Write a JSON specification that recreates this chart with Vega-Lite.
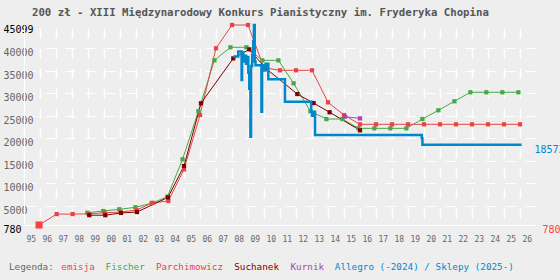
{
  "$schema": "https://vega.github.io/schema/vega-lite/v6.json",
  "width": 512,
  "height": 200,
  "autosize": {"type": "none"},
  "padding": {"left": 24, "top": 25, "right": 24, "bottom": 55},
  "background": "#eeeeee",
  "title": {
    "text": "200 zł - XIII Międzynarodowy Konkurs Pianistyczny im. Fryderyka Chopina",
    "anchor": "start", "frame": "group", "dx": 8, "offset": 1,
    "font": "DejaVu Sans Mono", "fontSize": 10.7, "fontWeight": "bold", "color": "#555555"
  },
  "config": {
    "view": {"stroke": null, "fill": "#eeeeee"},
    "font": "DejaVu Sans Mono",
    "axis": {
      "labelFont": "DejaVu Sans Mono", "domainColor": "white", "domainWidth": 1,
      "gridColor": "white", "ticks": false, "tickSize": 0,
      "labelOverlap": false, "labelFlush": false, "title": null
    }
  },
  "datasets": {
    "emisja": [{"seria": "emisja", "rok": 1995.94, "cena": 780}],
    "katalogi": [
      {"seria": "Fischer", "rok": 1998.96, "cena": 3500},
      {"seria": "Fischer", "rok": 1999.96, "cena": 3880},
      {"seria": "Fischer", "rok": 2000.96, "cena": 4260},
      {"seria": "Fischer", "rok": 2001.96, "cena": 4700},
      {"seria": "Fischer", "rok": 2002.97, "cena": 5590},
      {"seria": "Fischer", "rok": 2003.96, "cena": 7050},
      {"seria": "Fischer", "rok": 2004.91, "cena": 15340},
      {"seria": "Fischer", "rok": 2005.9, "cena": 26000},
      {"seria": "Fischer", "rok": 2006.9, "cena": 37270},
      {"seria": "Fischer", "rok": 2007.9, "cena": 40160},
      {"seria": "Fischer", "rok": 2008.9, "cena": 40160},
      {"seria": "Fischer", "rok": 2009.9, "cena": 37270},
      {"seria": "Fischer", "rok": 2010.9, "cena": 37270},
      {"seria": "Fischer", "rok": 2011.85, "cena": 32180},
      {"seria": "Fischer", "rok": 2012.9, "cena": 26000},
      {"seria": "Fischer", "rok": 2013.9, "cena": 24260},
      {"seria": "Fischer", "rok": 2014.9, "cena": 24260},
      {"seria": "Fischer", "rok": 2015.9, "cena": 22200},
      {"seria": "Fischer", "rok": 2016.9, "cena": 22200},
      {"seria": "Fischer", "rok": 2017.9, "cena": 22200},
      {"seria": "Fischer", "rok": 2018.9, "cena": 22200},
      {"seria": "Fischer", "rok": 2019.9, "cena": 24260},
      {"seria": "Fischer", "rok": 2020.9, "cena": 26200},
      {"seria": "Fischer", "rok": 2021.9, "cena": 28190},
      {"seria": "Fischer", "rok": 2022.9, "cena": 30190},
      {"seria": "Fischer", "rok": 2023.9, "cena": 30190},
      {"seria": "Fischer", "rok": 2024.9, "cena": 30190},
      {"seria": "Fischer", "rok": 2025.9, "cena": 30190},
      {"seria": "Parchimowicz", "rok": 1995.94, "cena": 780},
      {"seria": "Parchimowicz", "rok": 1997.04, "cena": 3200},
      {"seria": "Parchimowicz", "rok": 1998.04, "cena": 3200},
      {"seria": "Parchimowicz", "rok": 1999.04, "cena": 3250},
      {"seria": "Parchimowicz", "rok": 2000.04, "cena": 3500},
      {"seria": "Parchimowicz", "rok": 2001.04, "cena": 3650},
      {"seria": "Parchimowicz", "rok": 2002.04, "cena": 4100},
      {"seria": "Parchimowicz", "rok": 2003.03, "cena": 5700},
      {"seria": "Parchimowicz", "rok": 2004.02, "cena": 6100},
      {"seria": "Parchimowicz", "rok": 2005.0, "cena": 13100},
      {"seria": "Parchimowicz", "rok": 2006.0, "cena": 25150},
      {"seria": "Parchimowicz", "rok": 2007.0, "cena": 39940},
      {"seria": "Parchimowicz", "rok": 2008.0, "cena": 45099},
      {"seria": "Parchimowicz", "rok": 2009.0, "cena": 45099},
      {"seria": "Parchimowicz", "rok": 2010.0, "cena": 35640},
      {"seria": "Parchimowicz", "rok": 2011.0, "cena": 35060},
      {"seria": "Parchimowicz", "rok": 2012.0, "cena": 35060},
      {"seria": "Parchimowicz", "rok": 2013.0, "cena": 35060},
      {"seria": "Parchimowicz", "rok": 2014.0, "cena": 27970},
      {"seria": "Parchimowicz", "rok": 2015.0, "cena": 25150},
      {"seria": "Parchimowicz", "rok": 2016.0, "cena": 23090},
      {"seria": "Parchimowicz", "rok": 2017.0, "cena": 23090},
      {"seria": "Parchimowicz", "rok": 2018.0, "cena": 23090},
      {"seria": "Parchimowicz", "rok": 2019.0, "cena": 23090},
      {"seria": "Parchimowicz", "rok": 2020.0, "cena": 23090},
      {"seria": "Parchimowicz", "rok": 2021.0, "cena": 23090},
      {"seria": "Parchimowicz", "rok": 2022.0, "cena": 23090},
      {"seria": "Parchimowicz", "rok": 2023.0, "cena": 23090},
      {"seria": "Parchimowicz", "rok": 2024.0, "cena": 23090},
      {"seria": "Parchimowicz", "rok": 2025.0, "cena": 23090},
      {"seria": "Parchimowicz", "rok": 2026.0, "cena": 23090},
      {"seria": "Suchanek", "rok": 1999.08, "cena": 2950},
      {"seria": "Suchanek", "rok": 2000.08, "cena": 2950},
      {"seria": "Suchanek", "rok": 2001.06, "cena": 3450},
      {"seria": "Suchanek", "rok": 2002.06, "cena": 3650},
      {"seria": "Suchanek", "rok": 2004.0, "cena": 6900},
      {"seria": "Suchanek", "rok": 2005.0, "cena": 13850},
      {"seria": "Suchanek", "rok": 2006.06, "cena": 27750},
      {"seria": "Suchanek", "rok": 2008.08, "cena": 37700},
      {"seria": "Suchanek", "rok": 2009.08, "cena": 39700},
      {"seria": "Suchanek", "rok": 2010.06, "cena": 35640},
      {"seria": "Suchanek", "rok": 2012.08, "cena": 29800},
      {"seria": "Suchanek", "rok": 2013.1, "cena": 27800},
      {"seria": "Suchanek", "rok": 2014.1, "cena": 25760},
      {"seria": "Suchanek", "rok": 2016.0, "cena": 21760},
      {"seria": "Kurnik", "rok": 2015.06, "cena": 24800},
      {"seria": "Kurnik", "rok": 2016.0, "cena": 24400}
    ],
    "allegro": [
      {"seria": "Allegro (-2024) / Sklepy (2025-)", "rok": 2008.08, "cena": 38100},
      {"seria": "Allegro (-2024) / Sklepy (2025-)", "rok": 2008.39, "cena": 39200},
      {"seria": "Allegro (-2024) / Sklepy (2025-)", "rok": 2008.6, "cena": 32900},
      {"seria": "Allegro (-2024) / Sklepy (2025-)", "rok": 2008.63, "cena": 39000},
      {"seria": "Allegro (-2024) / Sklepy (2025-)", "rok": 2008.71, "cena": 37000},
      {"seria": "Allegro (-2024) / Sklepy (2025-)", "rok": 2008.8, "cena": 38300},
      {"seria": "Allegro (-2024) / Sklepy (2025-)", "rok": 2008.88, "cena": 36500},
      {"seria": "Allegro (-2024) / Sklepy (2025-)", "rok": 2008.95, "cena": 38000},
      {"seria": "Allegro (-2024) / Sklepy (2025-)", "rok": 2009.02, "cena": 34500},
      {"seria": "Allegro (-2024) / Sklepy (2025-)", "rok": 2009.08, "cena": 31000},
      {"seria": "Allegro (-2024) / Sklepy (2025-)", "rok": 2009.15, "cena": 20350},
      {"seria": "Allegro (-2024) / Sklepy (2025-)", "rok": 2009.19, "cena": 36000},
      {"seria": "Allegro (-2024) / Sklepy (2025-)", "rok": 2009.26, "cena": 38500},
      {"seria": "Allegro (-2024) / Sklepy (2025-)", "rok": 2009.33, "cena": 41500},
      {"seria": "Allegro (-2024) / Sklepy (2025-)", "rok": 2009.37, "cena": 45099},
      {"seria": "Allegro (-2024) / Sklepy (2025-)", "rok": 2009.42, "cena": 37000},
      {"seria": "Allegro (-2024) / Sklepy (2025-)", "rok": 2009.47, "cena": 36200},
      {"seria": "Allegro (-2024) / Sklepy (2025-)", "rok": 2009.84, "cena": 25900},
      {"seria": "Allegro (-2024) / Sklepy (2025-)", "rok": 2009.88, "cena": 36200},
      {"seria": "Allegro (-2024) / Sklepy (2025-)", "rok": 2010.0, "cena": 35000},
      {"seria": "Allegro (-2024) / Sklepy (2025-)", "rok": 2010.1, "cena": 36500},
      {"seria": "Allegro (-2024) / Sklepy (2025-)", "rok": 2010.27, "cena": 33060},
      {"seria": "Allegro (-2024) / Sklepy (2025-)", "rok": 2011.31, "cena": 28100},
      {"seria": "Allegro (-2024) / Sklepy (2025-)", "rok": 2012.95, "cena": 25900},
      {"seria": "Allegro (-2024) / Sklepy (2025-)", "rok": 2013.0, "cena": 25000},
      {"seria": "Allegro (-2024) / Sklepy (2025-)", "rok": 2013.08, "cena": 25900},
      {"seria": "Allegro (-2024) / Sklepy (2025-)", "rok": 2013.19, "cena": 20720},
      {"seria": "Allegro (-2024) / Sklepy (2025-)", "rok": 2019.86, "cena": 20000},
      {"seria": "Allegro (-2024) / Sklepy (2025-)", "rok": 2019.9, "cena": 18573},
      {"seria": "Allegro (-2024) / Sklepy (2025-)", "rok": 2026.1, "cena": 18573}
    ]
  },
  "encoding": {
    "x": {
      "field": "rok", "type": "quantitative",
      "scale": {"domain": [1995, 2027], "nice": false, "zero": false},
      "axis": {
        "orient": "bottom",
        "values": [1995,1996,1997,1998,1999,2000,2001,2002,2003,2004,2005,2006,2007,2008,2009,2010,2011,2012,2013,2014,2015,2016,2017,2018,2019,2020,2021,2022,2023,2024,2025,2026],
        "labelExpr": "substring(toString(datum.value), 2, 4)",
        "labelOverlap": false, "labelFlush": false, "labelBound": false,
        "labelAlign": "left", "labelOffset": 2, "labelBaseline": "middle", "labelPadding": 14,
        "labelFontSize": 8, "labelColor": "#666666",
        "domain": true, "domainColor": "white",
        "grid": true, "gridColor": "#ffffff", "gridWidth": 1.5, "gridDash": [10, 10], "gridDashOffset": 17
      }
    }
  },
  "layer": [
    {
      "data": {"name": "katalogi"},
      "mark": {"type": "line", "strokeWidth": 1, "point": {"shape": "square", "filled": true, "size": 18}},
      "encoding": {
        "y": {
          "field": "cena", "type": "quantitative",
          "scale": {"domain": [780, 45099], "nice": false, "zero": false},
          "axis": {
            "orient": "left",
            "values": [780, 5000, 10000, 15000, 20000, 25000, 30000, 35000, 40000, 45099],
            "format": "d", "labelOverlap": false, "labelFlush": false,
            "labelAlign": "left", "labelPadding": 21, "labelBaseline": "middle", "labelOffset": 4.5,
            "labelFontSize": 10,
            "labelColor": {"condition": {"test": "datum.value == 780 || datum.value == 45099", "value": "black"}, "value": "#666666"},
            "grid": true, "gridWidth": 1.2, "gridDash": [10, 10], "gridDashOffset": 19,
            "gridOpacity": {"condition": {"test": "datum.value == 45099", "value": 0}, "value": 1}
          }
        },
        "color": {
          "field": "seria", "type": "nominal",
          "scale": {
            "domain": ["emisja", "Fischer", "Parchimowicz", "Suchanek", "Kurnik", "Allegro (-2024) / Sklepy (2025-)"],
            "range": ["#ff4040", "#44aa44", "#e64545", "#800000", "#aa44aa", "#0088cc"]
          },
          "legend": {
            "orient": "none", "legendX": -15, "legendY": 237,
            "direction": "horizontal", "columns": 6,
            "title": "Legenda:", "titleOrient": "left", "titleFont": "DejaVu Sans Mono",
            "titleFontSize": 9.3, "titleFontWeight": "normal", "titleColor": "#666666", "titlePadding": -2,
            "symbolSize": 0, "symbolOpacity": 0, "symbolStrokeWidth": 0, "labelOffset": 0,
            "labelFont": "DejaVu Sans Mono", "labelFontSize": 9.3, "labelLimit": 0, "columnPadding": 1.3,
            "encode": {"labels": {"update": {"fill": {"scale": "color", "field": "value"}}}}
          }
        }
      }
    },
    {
      "data": {"name": "allegro"},
      "mark": {"type": "line", "interpolate": "step-after", "strokeWidth": 2.5},
      "encoding": {
        "y": {"field": "cena", "type": "quantitative", "axis": null},
        "color": {"field": "seria", "type": "nominal", "legend": null}
      }
    },
    {
      "data": {"name": "emisja"},
      "mark": {"type": "point", "shape": "square", "filled": true, "size": 50, "opacity": 1},
      "encoding": {
        "y": {
          "field": "cena", "type": "quantitative",
          "axis": {
            "orient": "right", "values": [780, 18573], "grid": false, "domain": false,
            "format": "d", "labelOverlap": false, "labelFlush": false,
            "labelAlign": "left", "labelBaseline": "middle", "labelOffset": 4.5,
            "labelPadding": {"condition": {"test": "datum.value == 780", "value": 6}, "value": -2},
            "labelFontSize": 10,
            "labelColor": {"condition": {"test": "datum.value == 780", "value": "#ff4040"}, "value": "#0088cc"}
          }
        },
        "color": {"field": "seria", "type": "nominal", "legend": null}
      }
    }
  ]
}
